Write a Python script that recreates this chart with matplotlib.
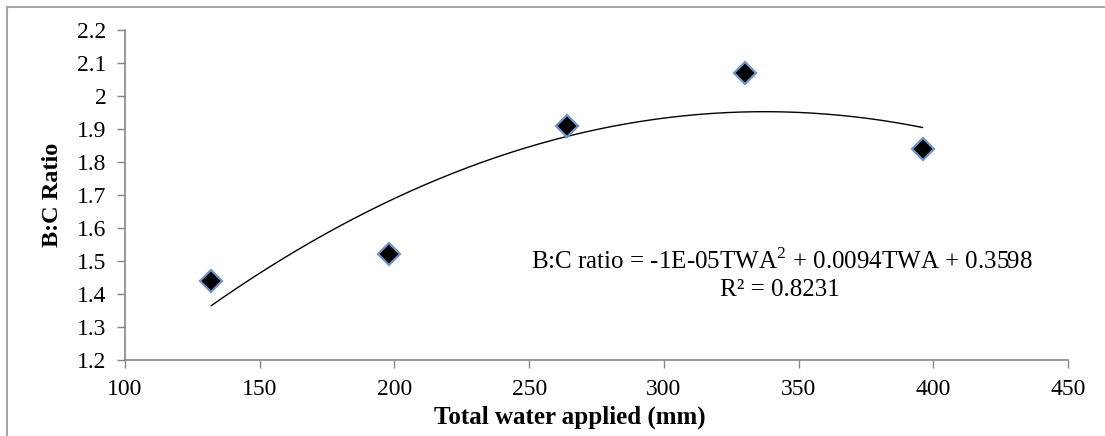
import numpy as np
import matplotlib
matplotlib.use("Agg")
import matplotlib.pyplot as plt
from matplotlib.patches import Rectangle

# data
twa = [132, 198, 264, 330, 396]
bc_ratio = [1.44, 1.52, 1.91, 2.07, 1.84]
x_ticks = [100, 150, 200, 250, 300, 350, 400, 450]
y_ticks = [1.2, 1.3, 1.4, 1.5, 1.6, 1.7, 1.8, 1.9, 2.0, 2.1, 2.2]
y_tick_labels = ["1.2", "1.3", "1.4", "1.5", "1.6", "1.7", "1.8", "1.9", "2", "2.1", "2.2"]
equation = "B:C ratio = -1E-05TWA$^2$ + 0.0094TWA + 0.3598"
r2_text = "R² = 0.8231"

plt.rcParams['font.family'] = ['Liberation Serif', 'DejaVu Serif']
plt.rcParams['mathtext.fontset'] = 'custom'
plt.rcParams['mathtext.rm'] = 'Liberation Serif'

W, H = 1105, 436
fig = plt.figure(figsize=(W / 100, H / 100), dpi=100)
ax = fig.add_axes([125 / W, 1 - 360 / H, (1068 - 125) / W, 330 / H])

# outer frame (cut by the image at right and bottom)
fig.patches.append(Rectangle((7 / W, -0.1), 1.2, 1 - 7 / H + 0.1,
                             transform=fig.transFigure, fill=False,
                             edgecolor='#a6a6a6', linewidth=1.5))

# quadratic trend line
coef = np.polyfit(twa, bc_ratio, 2)
xs = np.linspace(min(twa), max(twa), 200)
ax.plot(xs, np.polyval(coef, xs), color='black', linewidth=1.0, zorder=2)

ax.plot(twa, bc_ratio, linestyle='none', marker='D', markersize=11,
        markerfacecolor='black', markeredgecolor='#6f93c8',
        markeredgewidth=1.6, zorder=3)

ax.set_xlim(100, 450)
ax.set_ylim(1.2, 2.2)
ax.set_xticks(x_ticks)
ax.set_yticks(y_ticks)
ax.set_yticklabels(y_tick_labels)

for side in ['top', 'right']:
    ax.spines[side].set_visible(False)
for side in ['left', 'bottom']:
    ax.spines[side].set_color('#868686')
    ax.spines[side].set_linewidth(1.2)
ax.tick_params(axis='both', direction='out', length=5.5, width=1.0,
               color='#868686', labelsize=17)
ax.tick_params(axis='x', pad=8)
ax.tick_params(axis='y', pad=8)

ax.set_xlabel("Total water applied (mm)", fontsize=18, fontweight='bold')
ax.xaxis.set_label_coords((570 - 125) / 943, (360 - 417) / 330)
ax.xaxis.label.set_va('center')
ax.set_ylabel("B:C Ratio", fontsize=17.5, fontweight='bold')
ax.yaxis.set_label_coords((53 - 125) / 943, 0.5)
ax.yaxis.label.set_va('center')

ax.text(343.7, 1.50, equation, fontsize=18, ha='center', va='center')
ax.text(343.0, 1.412, r2_text, fontsize=18, ha='center', va='center')

fig.savefig("out.png", dpi=100)
